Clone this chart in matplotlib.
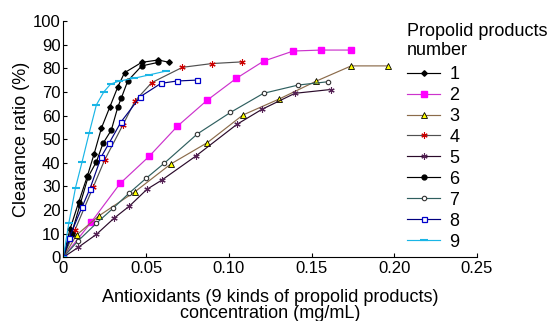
import matplotlib
matplotlib.use("Agg")
import matplotlib.pyplot as plt

plt.rcParams['font.family'] = ['Liberation Sans', 'DejaVu Sans']

labels = ["1", "2", "3", "4", "5", "6", "7", "8", "9"]

x1 = [0, 0.004, 0.0094, 0.0146, 0.0186, 0.023, 0.028, 0.033, 0.037, 0.0474, 0.0574, 0.064]
y1 = [0, 11.8, 23.5, 34.5, 43.7, 54.6, 63.4, 72.2, 78.1, 82.5, 83.5, 82.5]

x2 = [0, 0.017, 0.0344, 0.052, 0.069, 0.087, 0.1045, 0.121, 0.139, 0.156, 0.174]
y2 = [0, 15, 31.3, 42.8, 55.5, 66.5, 75.7, 83, 87.3, 87.7, 87.7]

x3 = [0, 0.008, 0.0214, 0.0434, 0.065, 0.087, 0.1085, 0.1305, 0.153, 0.174, 0.196]
y3 = [0, 9.4, 17.5, 27.8, 39.5, 48.5, 60.2, 67, 74.6, 81, 81]

x4 = [0, 0.007, 0.018, 0.025, 0.036, 0.0434, 0.0534, 0.072, 0.09, 0.108]
y4 = [0, 11.5, 29.6, 41.2, 56, 66.2, 73.9, 80.4, 82, 82.7]

x5 = [0, 0.009, 0.02, 0.0306, 0.04, 0.0506, 0.0596, 0.08, 0.105, 0.12, 0.14, 0.1615]
y5 = [0, 4.2, 9.7, 16.5, 21.7, 28.8, 32.7, 42.8, 56.3, 62.6, 69.4, 71]

x6 = [0, 0.005, 0.01, 0.015, 0.02, 0.024, 0.029, 0.033, 0.035, 0.039, 0.0474, 0.0574]
y6 = [0, 10, 22, 34, 40.4, 48.2, 53.8, 63.7, 67.3, 74.7, 81, 82.5]

x7 = [0, 0.009, 0.02, 0.03, 0.04, 0.05, 0.061, 0.081, 0.101, 0.121, 0.142, 0.16]
y7 = [0, 7, 14.4, 20.7, 27.3, 33.4, 39.8, 52.2, 61.3, 69.4, 72.9, 74.3]

x8 = [0, 0.0034, 0.0114, 0.016, 0.023, 0.0276, 0.035, 0.0466, 0.059, 0.0686, 0.081]
y8 = [0, 8, 21.4, 28.8, 42.6, 48.2, 57.4, 68, 73.6, 74.6, 75]

x9 = [0, 0.0034, 0.0074, 0.0114, 0.0156, 0.02, 0.0246, 0.0286, 0.0334, 0.043, 0.052, 0.062]
y9 = [0, 14.7, 29.5, 40.5, 52.5, 64.5, 70.1, 73.3, 74.5, 75.8, 77.2, 78.8]

xs = [x1, x2, x3, x4, x5, x6, x7, x8, x9]
ys = [y1, y2, y3, y4, y5, y6, y7, y8, y9]

styles = [
    dict(color='#000000', marker='D', ms=2.8, mfc='#000000', mec='#000000'),
    dict(color='#CC33CC', marker='s', ms=4, mfc='#FF00FF', mec='#FF00FF'),
    dict(color='#8B6B4A', marker='^', ms=4, mfc='#FFFF00', mec='#000000', mew=0.6),
    dict(color='#505050', marker=(6, 2, 0), ms=4.5, mfc='#CC0000', mec='#CC0000', mew=0.8),
    dict(color='#2A0A2A', marker=(6, 2, 0), ms=4.5, mfc='#552255', mec='#552255', mew=0.8),
    dict(color='#000000', marker='o', ms=3.5, mfc='#000000', mec='#000000'),
    dict(color='#2F5F5F', marker='o', ms=3.2, mfc='white', mec='#333333', mew=0.8),
    dict(color='#000080', marker='s', ms=3.6, mfc='white', mec='#0000CC', mew=0.9),
    dict(color='#19B5E6', marker='_', ms=5.5, mfc='#19B5E6', mec='#19B5E6', mew=1.5),
]

fig = plt.figure(figsize=(5.47, 3.21), dpi=100)
ax = fig.add_axes([0.1157, 0.1984, 0.7563, 0.7362])

for x, y, lab, st in zip(xs, ys, labels, styles):
    ax.plot(x, y, lw=0.85, label=lab, **st)

ax.set_xlim(0, 0.25)
ax.set_ylim(0, 100)
ax.set_xticks([0, 0.05, 0.10, 0.15, 0.20, 0.25])
ax.set_xticklabels(["0", "0.05", "0.10", "0.15", "0.20", "0.25"])
ax.set_yticks(range(0, 101, 10))
ax.tick_params(direction='in', labelsize=12, length=3, width=0.8, pad=2)
ax.tick_params(axis='x', pad=3)
ax.spines['top'].set_visible(False)
ax.spines['right'].set_visible(False)
ax.set_xlabel("Antioxidants (9 kinds of propolid products)\nconcentration (mg/mL)", fontsize=13, labelpad=9, linespacing=0.95)
ax.set_ylabel("Clearance ratio (%)", fontsize=13, labelpad=2)

leg = ax.legend(title="Propolid products\nnumber", loc='upper left',
                bbox_to_anchor=(407 / 547, 1 - 23 / 321), bbox_transform=fig.transFigure,
                frameon=False, numpoints=1, fontsize=13, title_fontsize=13,
                handlelength=1.85, handletextpad=0.5, labelspacing=0.22,
                borderaxespad=0, borderpad=0)
leg._legend_box.align = "left"
leg._legend_box.sep = 5
leg.get_title().set_linespacing(1.15)

fig.savefig("out.png", dpi=100)
